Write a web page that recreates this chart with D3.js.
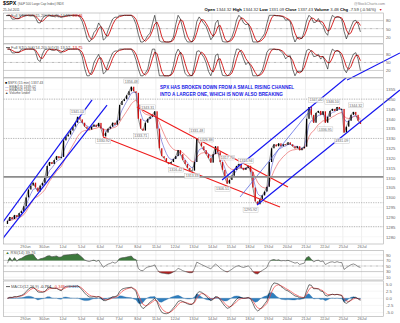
<!DOCTYPE html>
<html><head><meta charset="utf-8">
<script src="https://cdn.jsdelivr.net/npm/d3@7"></script>
<style>
html,body{margin:0;padding:0;background:#fff;}
svg{display:block;font-family:"Liberation Sans",Arial,sans-serif;}
</style></head><body>
<svg id="c" width="400" height="323"></svg>
<script>
// ---------------- data ----------------
const dayNames = ["28Jun","29Jun","30Jun","1Jul","5Jul","6Jul","7Jul","8Jul","11Jul","12Jul","13Jul","14Jul","15Jul","18Jul","19Jul","20Jul","21Jul","22Jul","25Jul"];
const tickLabels = ["29Jun","30Jun","1Jul","5Jul","6Jul","7Jul","8Jul","11Jul","12Jul","13Jul","14Jul","15Jul","18Jul","19Jul","20Jul","21Jul","22Jul","25Jul","26Jul"];
const barsPerDay = 8;
const firstOpen = 1286.5;
const closes = [
 1288,1290,1289,1291,1290,1292,1293,1295.5,        // 28Jun
 1300,1304,1306,1307.5,1305,1303,1306,1307.4,      // 29Jun
 1310,1316,1318,1317,1319,1321,1320,1320.6,        // 30Jun
 1329,1331,1332,1334,1336,1338,1341,1339.7,        // 1Jul
 1338,1336,1335,1334.5,1336,1337,1336,1337.9,      // 5Jul
 1335,1331,1333,1335,1336,1338,1337,1339.2,        // 6Jul
 1347,1349,1350,1352,1354,1356.3,1354,1353.2,      // 7Jul
 1340,1335,1334,1338,1340,1341,1342,1343.8,        // 8Jul
 1335,1325,1321,1320,1318,1317,1318,1319.5,        // 11Jul
 1321,1324,1322,1319,1317,1315,1313.5,1313.6,      // 12Jul
 1318,1330,1328,1326,1324,1322,1320,1317.7,        // 13Jul
 1322,1326,1323,1318,1314,1310,1307,1308.9,        // 14Jul
 1311,1314,1316,1317,1315,1314,1315,1316.1,        // 15Jul
 1313,1305,1298,1296.5,1299,1301,1303,1305.4,      // 18Jul
 1318,1325,1327,1326,1327.5,1326,1327,1326.7,      // 19Jul
 1328,1327,1326,1325,1326,1324,1325,1325.8,        // 20Jul
 1340,1346,1342,1338,1343,1344,1342,1343.8,        // 21Jul
 1338,1341,1344,1345,1344,1346,1345,1345.0,        // 22Jul
 1333,1336,1339,1342,1343.5,1342,1339,1337.4       // 25Jul
];
const priceTicks = [1355,1350,1345,1340,1335,1330,1325,1320,1315,1310,1305,1300,1295,1290,1285,1280];
const stoTicks = [80,50,20];
const rsiTicks = [90,70,50,30,10];
const macdTicks = [5,2.5,0,-2.5,-5];
const macdTickText = ["5.0","2.5","0.0","-2.5","-5.0"];
const supportLevel = 1310.4;
const dottedLevels = [1350,1330,1297.3,1285.1];
// price call-outs: value, bar index, side
const noteValues = [1356.48,1341.01,1343.31,1330.92,1333.71,1331.48,1326.88,1317.70,1315.94,1316.42,1313.33,1306.51,1295.92,1347.00,1346.10,1344.32,1336.95,1331.09];
const noteBars   = [53,30,60,41,57,81,85,94,102,72,79,92,104,132,139,149,136,143];
const noteSides  = ["a","a","a","b","b","a","a","a","a","b","b","b","b","a","a","a","b","b"];
// trendlines in (bar index, price) units
const blueLines = [[-2.7,1285.4,36.7,1349.6],[-2.7,1277.3,43.1,1347.0],[92.3,1308.85,147.9,1363.3],[107.25,1296.1,168.4,1354.6]];
const thinBlueLines = [[100.0,1300.2,130.8,1345.5]];
const redLines = [[55.9,1346.0,120.5,1305.3],[41.4,1330.7,117.1,1295.1]];
const stoTrend = [145.8,-15.7,168.4,85.4];

// ---------------- helpers ----------------
const opens = closes.map((c,i)=> i ? closes[i-1] : firstOpen);
const hi = closes.map((c,i)=>Math.max(c,opens[i]));
const lo = closes.map((c,i)=>Math.min(c,opens[i]));
function ema(a,n){const k=2/(n+1);let e=a[0];return a.map((v,i)=>(e= i? v*k+e*(1-k) : v));}
function sma(a,n){return a.map((v,i)=>d3.mean(a.slice(Math.max(0,i-n+1),i+1)));}
function stoch(n,slow,dn){
  const raw = closes.map((c,i)=>{const s=Math.max(0,i-n+1);const hh=d3.max(hi.slice(s,i+1)),ll=d3.min(lo.slice(s,i+1));return hh===ll?50:(c-ll)/(hh-ll)*100;});
  const k=sma(raw,slow);return {k,d:sma(k,dn)};
}
function rsi(n){
  let ag=0,al=0;const out=[60];
  for(let i=1;i<closes.length;i++){const ch=closes[i]-closes[i-1];const g=Math.max(ch,0),l=Math.max(-ch,0);
    if(i<=n){ag=(ag*(i-1)+g)/i;al=(al*(i-1)+l)/i;}else{ag=(ag*(n-1)+g)/n;al=(al*(n-1)+l)/n;}
    out.push(al===0?80:100-100/(1+ag/al));}
  return out;
}
const ema13=ema(closes,4), ema34=ema(closes,10);
const s1=stoch(6,2,3), s2=stoch(5,2,3);
const rsiV=rsi(9);
const mFast=ema(closes,4), mSlow=ema(closes,8);
const macd=mFast.map((v,i)=>v-mSlow[i]);
const signal=ema(macd,3);
const hist=macd.map((v,i)=>v-signal[i]);

// ---------------- layout ----------------
const svg=d3.select("#c");
const L=3.5,R=383.5;
const P={sto1:[13,43.5],sto2:[44,77.5],price:[78,244],rsi:[250.5,280],macd:[281,316.5]};
const x=d3.scaleLinear().domain([0,closes.length]).range([6.3,361.6]);
const xb=i=>x(i+0.5);
const yS1=d3.scaleLinear().domain([0,100]).range([42,15.3]);
const yS2=d3.scaleLinear().domain([0,100]).range([75.8,49.1]);
const yP=d3.scaleLinear().domain([1280,1355]).range([236.7,89.3]);
const yR=d3.scaleLinear().domain([0,100]).range([280,252]);
const yM=d3.scaleLinear().domain([-5,5]).range([312.5,284.1]);

const defs=svg.append("defs");
Object.entries(P).forEach(([k,[t,b]])=>defs.append("clipPath").attr("id","clip-"+k).append("rect").attr("x",L).attr("y",t).attr("width",R-L).attr("height",b-t));
defs.append("clipPath").attr("id","clip-wide").append("rect").attr("x",L).attr("y",78).attr("width",400-L).attr("height",166);

const dayTicks=d3.range(1,20).map(k=>k*barsPerDay);

// panel grids
Object.entries(P).forEach(([k,[t,b]])=>{
  svg.append("g").selectAll("line").data(dayTicks).join("line").attr("x1",d=>x(d)).attr("x2",d=>x(d)).attr("y1",t).attr("y2",b).attr("stroke","#e3e3e3").attr("stroke-width",0.6);
});
function hline(y,color,w,dash){svg.append("line").attr("x1",L).attr("x2",R).attr("y1",y).attr("y2",y).attr("stroke",color).attr("stroke-width",w).attr("stroke-dasharray",dash||null);}
priceTicks.forEach(v=>hline(yP(v),"#f0f0f0",0.5));
dottedLevels.forEach(v=>hline(yP(v),"#8a8a8a",0.6,"1.2,1.2"));
[yS1,yS2].forEach(ys=>{hline(ys(80),"#b0b0b0",0.6);hline(ys(20),"#b0b0b0",0.6);hline(ys(50),"#8c8c8c",0.6,"3,1,1,1");});
hline(yR(90),"#e4e4e4",0.5);hline(yR(10),"#e4e4e4",0.5);
hline(yR(70),"#a8a8a8",0.6);hline(yR(30),"#a8a8a8",0.6);hline(yR(50),"#8c8c8c",0.6,"3,1,1,1");
macdTicks.forEach(v=>hline(yM(v),"#ececec",0.5));

// ---------------- sto panels ----------------
function stoPanel(s,ys,clip){
  const g=svg.append("g").attr("clip-path",`url(#clip-${clip})`);
  const ln=d3.line().x((d,i)=>xb(i)).y(d=>ys(d));
  g.append("path").attr("d",ln(s.d)).attr("fill","none").attr("stroke","#d01010").attr("stroke-width",0.9);
  g.append("path").attr("d",ln(s.k)).attr("fill","none").attr("stroke","#111").attr("stroke-width",0.6);
}
stoPanel(s1,yS1,"sto1");
stoPanel(s2,yS2,"sto2");

// ---------------- price panel ----------------
const gp=svg.append("g").attr("clip-path","url(#clip-price)");
hline(yP(supportLevel),"#8c8c8c",1.8);
const lineP=d3.line().x((d,i)=>xb(i)).y(d=>yP(d));
gp.append("path").attr("d",lineP(ema34)).attr("fill","none").attr("stroke","#e85050").attr("stroke-width",0.6);
gp.append("path").attr("d",lineP(ema13)).attr("fill","none").attr("stroke","#5858d0").attr("stroke-width",0.6);
gp.append("path").attr("d",lineP(closes)).attr("fill","none").attr("stroke","#222").attr("stroke-width",0.5);
gp.selectAll("rect.c").data(closes).join("rect")
  .attr("x",(d,i)=>xb(i)-0.65).attr("width",1.3)
  .attr("y",(d,i)=>yP(hi[i])).attr("height",(d,i)=>Math.max(0.8,yP(lo[i])-yP(hi[i])))
  .attr("fill",(d,i)=>d>=opens[i]?"#000":"#d01010");
const gw=svg.append("g").attr("clip-path","url(#clip-wide)");
function tl(g,arr,color,w){g.selectAll(null).data(arr).join("line")
  .attr("x1",d=>x(d[0])).attr("y1",d=>yP(d[1])).attr("x2",d=>x(d[2])).attr("y2",d=>yP(d[3]))
  .attr("stroke",color).attr("stroke-width",w);}
tl(gp,redLines,"#ee1c1c",1.1);
tl(gp,thinBlueLines,"#4b5be0",0.7);
tl(gw,blueLines,"#1515f0",1.2);
svg.append("line").attr("x1",x(stoTrend[0])).attr("y1",yS2(stoTrend[1])).attr("x2",x(stoTrend[2])).attr("y2",yS2(stoTrend[3])).attr("stroke","#1515f0").attr("stroke-width",1.1);

// callouts
const notes=noteValues.map((v,i)=>({v,b:noteBars[i],s:noteSides[i]}));
const ng=svg.append("g").selectAll("g").data(notes).join("g")
  .attr("transform",d=>`translate(${xb(d.b)},${yP(d.v)+(d.s==="a"?-5:4.5)})`);
ng.append("rect").attr("x",-7.5).attr("y",-2.4).attr("width",15).attr("height",4.8).attr("fill","#fff").attr("fill-opacity",0.85).attr("stroke","#b8b8b8").attr("stroke-width",0.4);
ng.append("text").attr("text-anchor","middle").attr("y",1.3).attr("font-size",3.6).attr("fill","#666").text(d=>d.v.toFixed(2));

// annotation
const ann=svg.append("g").attr("fill","#1a1ae6").attr("font-weight","bold").attr("font-size",4.6);
ann.append("text").attr("x",160).attr("y",89).text("SPX HAS BROKEN DOWN FROM A SMALL RISING CHANNEL");
ann.append("text").attr("x",160).attr("y",95.5).text("INTO A LARGER ONE, WHICH IS NOW ALSO BREAKING");

// ---------------- RSI ----------------
const gr=svg.append("g").attr("clip-path","url(#clip-rsi)");
gr.append("path").attr("d",d3.area().x((d,i)=>xb(i)).y0(yR(70)).y1(d=>yR(Math.max(d,70)))(rsiV)).attr("fill","#3d7a3d");
gr.append("path").attr("d",d3.area().x((d,i)=>xb(i)).y0(yR(30)).y1(d=>yR(Math.min(d,30)))(rsiV)).attr("fill","#b02020");
gr.append("path").attr("d",d3.line().x((d,i)=>xb(i)).y(d=>yR(d))(rsiV)).attr("fill","none").attr("stroke","#444").attr("stroke-width",0.6);

// ---------------- MACD ----------------
const gm=svg.append("g").attr("clip-path","url(#clip-macd)");
gm.append("path").attr("d",d3.area().x((d,i)=>xb(i)).y0(yM(0)).y1(d=>yM(d))(hist)).attr("fill","#2f7fbf").attr("stroke","#1d5f9a").attr("stroke-width",0.3);
gm.append("path").attr("d",d3.line().x((d,i)=>xb(i)).y(d=>yM(d))(signal)).attr("fill","none").attr("stroke","#f04040").attr("stroke-width",0.7);
gm.append("path").attr("d",d3.line().x((d,i)=>xb(i)).y(d=>yM(d))(macd)).attr("fill","none").attr("stroke","#111").attr("stroke-width",0.6);

// frames
Object.values(P).forEach(([t,b])=>svg.append("rect").attr("x",L).attr("y",t).attr("width",R-L).attr("height",b-t).attr("fill","none").attr("stroke","#a8a8a8").attr("stroke-width",0.6));

// ---------------- axes ----------------
function styleAxis(g,size){g.select(".domain").remove();g.selectAll("line").remove();g.attr("font-family",null).attr("font-size",null);g.selectAll("text").attr("font-size",size).attr("fill","#666");}
function rightAxis(scale,vals,fmt){
  const a=d3.axisRight(scale).tickValues(vals).tickSize(0).tickPadding(0);
  if(fmt)a.tickFormat(fmt);
  const g=svg.append("g").attr("transform","translate(386,0)").call(a);styleAxis(g,4.2);
}
rightAxis(yS1,stoTicks);rightAxis(yS2,stoTicks);
rightAxis(yP,priceTicks,d3.format("d"));
rightAxis(yR,rsiTicks);
rightAxis(yM,macdTicks,(d,i)=>macdTickText[i]);
[245.2,317.6].forEach(y0=>{
  const g=svg.append("g").attr("transform",`translate(0,${y0})`).call(d3.axisBottom(x).tickValues(dayTicks).tickFormat((d,i)=>tickLabels[i]).tickSize(0).tickPadding(0));
  styleAxis(g,3.8);g.selectAll("text").attr("dy","0.75em");
});

// ---------------- legends / header ----------------
const hd=svg.append("g");
const t1=hd.append("text").attr("x",3).attr("y",5.3);
t1.append("tspan").attr("font-weight","bold").attr("font-size",5.2).attr("fill","#000").text("$SPX ");
t1.append("tspan").attr("font-size",3.1).attr("fill","#555").text("(S&P 500 Large Cap Index) INDX");
hd.append("text").attr("x",3).attr("y",11).attr("font-size",3.2).attr("fill","#444").text("25-Jul-2011");
hd.append("text").attr("x",385).attr("y",4.6).attr("text-anchor","end").attr("font-size",3.6).attr("fill","#888").text("@StockCharts.com");
const hdrParts=[["Open ",1],["1344.32  ",0],["High ",1],["1344.32  ",0],["Low ",1],["1331.09  ",0],["Close ",1],["1337.43  ",0],["Volume ",1],["3.4B  ",0],["Chg ",1],["-7.59 (-0.56%) ",0]];
const t2=hd.append("text").attr("x",376).attr("y",10.8).attr("text-anchor","end").attr("font-size",4.2).attr("fill","#333");
hdrParts.forEach(([s,b])=>t2.append("tspan").attr("font-weight",b?"bold":"normal").attr("fill",b?"#000":"#333").text(s));
hd.append("text").attr("x",379).attr("y",10.8).attr("font-size",3.4).attr("fill","#d01010").text("▼");

function legend(y,parts,mark){
  const g=svg.append("g");
  if(mark)g.append("line").attr("x1",6).attr("x2",10).attr("y1",y-1.2).attr("y2",y-1.2).attr("stroke",mark).attr("stroke-width",0.8);
  const t=g.append("text").attr("x",11).attr("y",y).attr("font-size",4);
  parts.forEach(([s,c])=>t.append("tspan").attr("fill",c).text(s));
}
legend(16.8,[["Full STO %K(15,20) %D(3) 14.55, ","#555"],["24.46","#d01010"]],"#333");
legend(48.8,[["Full STO %K(14,20) %D(3) 13.52, ","#555"],["13.75","#d01010"]],"#333");
legend(287.8,[["MACD(12,26,9) ","#555"],["-0.764, ","#111"],["-0.348, ","#e03030"],["-0.416","#2f7fbf"]],"#333");
const rl=svg.append("text").attr("x",5.5).attr("y",253.8).attr("font-size",4);
rl.append("tspan").attr("fill","#3d7a3d").text("▲ ");
rl.append("tspan").attr("fill","#555").text("RSI(14) 39.76");

const pl=[["■ ","#000","$SPX (15 min) 1337.43"],["— ","#4040c0","EMA(13) 1339.02"],["— ","#e03030","EMA(34) 1340.74"],["▲ ","#444","Volume undef"]];
pl.forEach((p,i)=>{const t=svg.append("text").attr("x",5).attr("y",84.3+i*3.3).attr("font-size",3.4);
  t.append("tspan").attr("fill",p[1]).text(p[0]);t.append("tspan").attr("fill","#555").text(p[2]);});
</script>
</body></html>
